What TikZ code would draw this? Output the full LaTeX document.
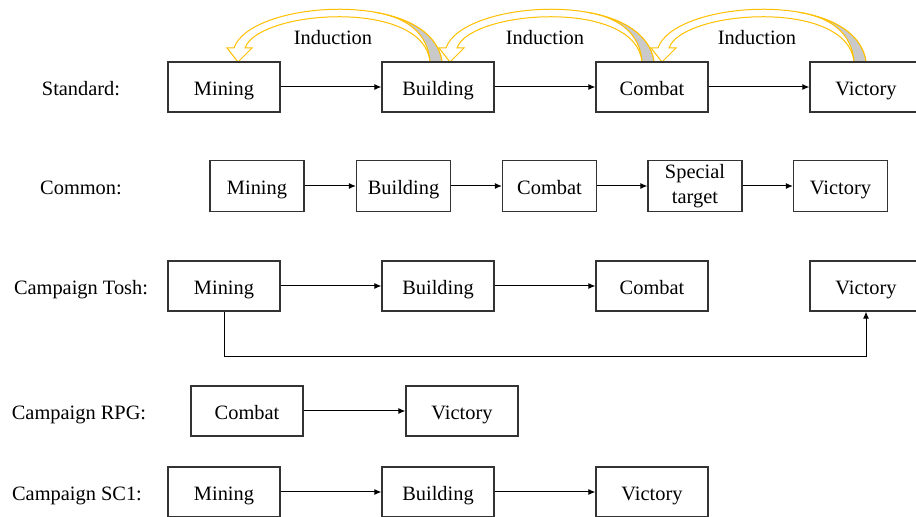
\documentclass[tikz,border=0pt]{standalone}
\usepackage{fontspec}
\setmainfont{Liberation Serif}
\usetikzlibrary{arrows.meta}
\definecolor{indgold}{HTML}{FFC000}
\definecolor{indgray}{HTML}{C9C9C9}

\begin{document}
\begin{tikzpicture}[x=0.5pt,y=-0.5pt,
    every node/.style={font=\fontsize{10.2}{12.2}\selectfont},
    stagebox/.style={draw=black!80,line width=0.65pt,minimum width=56pt,minimum height=25pt,inner sep=1pt,align=center},
    stage/.style={stagebox,text height=10pt,text depth=1.5pt},
    smallstage/.style={stage,minimum width=47pt,minimum height=25.5pt},
    twostage/.style={stagebox,minimum width=47pt,minimum height=25.5pt},
    rowlabel/.style={text height=10pt,text depth=1.5pt},
    flow/.style={-{Latex[length=3.5pt,width=3pt]},line width=0.5pt},
    ribbon/.style={draw=indgold,line width=0.5pt}]

        \clip (0,0) rectangle (916,517);

        % Induction arrows (Standard)
        \foreach \dx in {0,212,424}{
            \begin{scope}[shift={(\dx,0)}]
                \filldraw[ribbon,fill=white] (234,48) .. controls (250,0) and (432,-12) .. (442,62)
                    -- (430,62) .. controls (424,-2) and (258,10) .. (245,48)
                    -- (252,48) -- (238,62) -- (227,48) -- cycle;
                \filldraw[ribbon,fill=indgray] (430,62) .. controls (428,32) and (405,17) .. (374.6,12.2)
                    .. controls (409.6,18.2) and (438.2,33.9) .. (442,62) -- cycle;
                \node[rowlabel] (ind\dx) at (333,36) {Induction};
            \end{scope}
        }

        % Standard
        \node[rowlabel] (lstd) at (81,87) {Standard:};
        \node[stage] (std1) at (224,87) {Mining};
        \node[stage] (std2) at (438,87) {Building};
        \node[stage] (std3) at (652,87) {Combat};
        \node[stage] (std4) at (866,87) {Victory};
        \draw[flow] (std1) -- (std2);
        \draw[flow] (std2) -- (std3);
        \draw[flow] (std3) -- (std4);

        % Common
        \node[rowlabel] (lcom) at (81,186) {Common:};
        \node[smallstage] (com1) at (257,186) {Mining};
        \node[smallstage] (com2) at (403.5,186) {Building};
        \node[smallstage] (com3) at (549.5,186) {Combat};
        \node[twostage] (com4) at (695,186) {Special\\target};
        \node[smallstage] (com5) at (840.5,186) {Victory};
        \draw[flow] (com1) -- (com2);
        \draw[flow] (com2) -- (com3);
        \draw[flow] (com3) -- (com4);
        \draw[flow] (com4) -- (com5);

        % Campaign Tosh
        \node[rowlabel] (ltosh) at (81,286) {Campaign Tosh:};
        \node[stage] (tosh1) at (224,286) {Mining};
        \node[stage] (tosh2) at (438,286) {Building};
        \node[stage] (tosh3) at (652,286) {Combat};
        \node[stage] (tosh4) at (866,286) {Victory};
        \coordinate (tbend) at (224,357);
        \draw[flow] (tosh1) -- (tosh2);
        \draw[flow] (tosh2) -- (tosh3);
        \draw[flow] (tosh1.south) -- (tbend) -| (tosh4.south);

        % Campaign RPG
        \node[rowlabel] (lrpg) at (79,411) {Campaign RPG:};
        \node[stage] (rpg1) at (247,411) {Combat};
        \node[stage] (rpg2) at (462,411) {Victory};
        \draw[flow] (rpg1) -- (rpg2);

        % Campaign SC1
        \node[rowlabel] (lsc) at (77,492) {Campaign SC1:};
        \node[stage] (sc1) at (224,492) {Mining};
        \node[stage] (sc2) at (438,492) {Building};
        \node[stage] (sc3) at (652,492) {Victory};
        \draw[flow] (sc1) -- (sc2);
        \draw[flow] (sc2) -- (sc3);

    \end{tikzpicture}
\end{document}
